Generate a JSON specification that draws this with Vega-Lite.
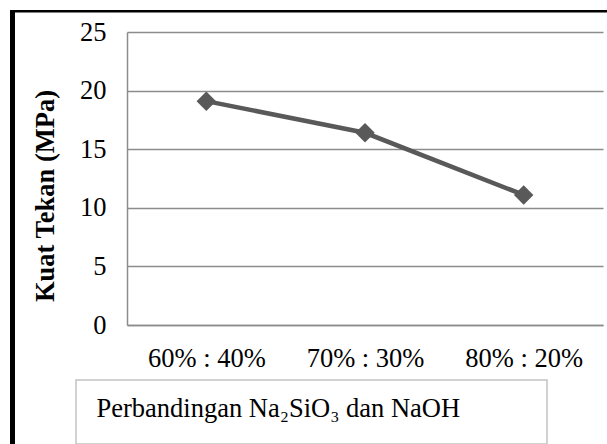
{
  "$schema": "https://vega.github.io/schema/vega-lite/v6.json",
  "padding": {"left": 10, "top": 10, "right": 0, "bottom": 0},
  "background": "white",
  "config": {"view": {"stroke": null}, "concat": {"spacing": 0}},
  "spacing": 0,
  "hconcat": [
    {
      "width": 5, "height": 434,
      "view": {"fill": "#000000", "stroke": null},
      "data": {"values": []},
      "mark": "point"
    },
    {
      "spacing": 6,
      "vconcat": [
        {
          "width": 592, "height": 2.5,
          "view": {"fill": "#000000", "stroke": null},
          "data": {"values": []},
          "mark": "point"
        },
        {
          "spacing": 7,
          "vconcat": [
            {
              "spacing": 0,
              "hconcat": [
                {
                  "width": 16.5, "height": 1,
                  "view": {"stroke": null},
                  "data": {"values": []},
                  "mark": "point"
                },
                {
                  "width": 476, "height": 293,
                  "view": {"stroke": null},
                  "data": {"values": [
                    {"rasio": "60% : 40%", "kuat": 19.1},
                    {"rasio": "70% : 30%", "kuat": 16.4},
                    {"rasio": "80% : 20%", "kuat": 11.1}
                  ]},
                  "encoding": {
                    "x": {
                      "field": "rasio", "type": "ordinal", "sort": null,
                      "scale": {"type": "point", "padding": 0.5},
                      "axis": {
                        "title": null, "labelAngle": 0,
                        "labelFont": "Liberation Serif", "labelFontSize": 26.5, "labelColor": "#000000",
                        "labelPadding": 20.5, "ticks": false, "tickSize": 0,
                        "domain": true, "domainColor": "#8c8c8c", "domainWidth": 1.5,
                        "grid": false
                      }
                    },
                    "y": {
                      "field": "kuat", "type": "quantitative",
                      "scale": {"domain": [0, 25], "nice": false},
                      "axis": {
                        "values": [0, 5, 10, 15, 20, 25],
                        "title": "Kuat Tekan (MPa)",
                        "titleFont": "Liberation Serif", "titleFontSize": 26.5, "titleFontWeight": "bold",
                        "titleColor": "#000000", "titlePadding": 20, "titleY": 163.5,
                        "labelFont": "Liberation Serif", "labelFontSize": 26.5, "labelColor": "#000000",
                        "labelPadding": 21, "ticks": false, "tickSize": 0,
                        "domain": true, "domainColor": "#8c8c8c", "domainWidth": 1.5,
                        "grid": true, "gridColor": "#8c8c8c", "gridWidth": 1.5
                      }
                    }
                  },
                  "layer": [
                    {"mark": {"type": "line", "color": "#595959", "strokeWidth": 4.5}},
                    {"mark": {"type": "point", "shape": "diamond", "filled": true, "size": 380, "color": "#595959", "opacity": 1}}
                  ]
                }
              ]
            },
            {
              "spacing": 0,
              "hconcat": [
                {
                  "width": 60, "height": 1,
                  "view": {"stroke": null},
                  "data": {"values": []},
                  "mark": "point"
                },
                {
                  "width": 471, "height": 64,
                  "view": {"stroke": "#c3c3c3", "strokeWidth": 1.5},
                  "data": {"values": [{"label": "Perbandingan Na₂SiO₃ dan NaOH"}]},
                  "mark": {"type": "text", "font": "Liberation Serif", "fontSize": 26.5, "align": "left", "baseline": "middle", "dx": -215, "dy": -3, "color": "#000000"},
                  "encoding": {"text": {"field": "label"}}
                }
              ]
            }
          ]
        }
      ]
    }
  ]
}
